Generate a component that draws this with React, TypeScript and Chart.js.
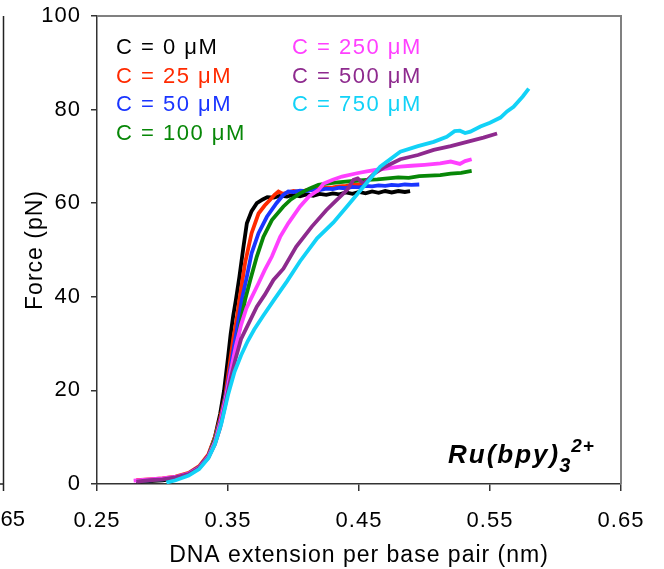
import React, { useEffect, useRef } from "react";
import { Chart, registerables } from "chart.js";

Chart.register(...registerables);

const FONT = "'Liberation Sans', Arial, sans-serif";

// Axis ticks
const xTicks = [0.25, 0.35, 0.45, 0.55, 0.65];
const yTicks = [0, 20, 40, 60, 80, 100];

// Series labels and colours
const labels = ["C = 0 μM", "C = 25 μM", "C = 50 μM", "C = 100 μM", "C = 250 μM", "C = 500 μM", "C = 750 μM"];
const colors = ["#000000", "#ff2a00", "#1a35ff", "#078707", "#ff40ff", "#8e2a8e", "#12d2f7"];

// Extension (nm per bp) and force (pN) for each concentration
const c0X = [0.280, 0.290, 0.300, 0.310, 0.320, 0.328, 0.335, 0.340, 0.344, 0.347, 0.350, 0.352, 0.354, 0.356, 0.3587, 0.3618, 0.3644, 0.368, 0.372, 0.3765, 0.380, 0.385, 0.390, 0.395, 0.400, 0.405, 0.410, 0.415, 0.420, 0.425, 0.430, 0.435, 0.440, 0.445, 0.450, 0.455, 0.460, 0.465, 0.470, 0.475, 0.480, 0.485, 0.489];
const c0F = [0.5, 0.6, 0.8, 1.2, 2.0, 3.5, 6.0, 10, 15, 20, 27, 32, 36, 39.3, 44.3, 50.7, 55.7, 58.3, 60.0, 60.8, 61.3, 61.2, 61.6, 61.4, 61.8, 61.5, 61.9, 61.6, 62.0, 61.8, 62.1, 61.9, 62.3, 62.0, 62.4, 62.1, 62.5, 62.2, 62.6, 62.3, 62.6, 62.4, 62.6];

const c25X = [0.280, 0.290, 0.300, 0.310, 0.320, 0.328, 0.335, 0.340, 0.344, 0.348, 0.351, 0.354, 0.3565, 0.3587, 0.363, 0.368, 0.3733, 0.378, 0.382, 0.3855, 0.3885, 0.392, 0.396, 0.400, 0.405, 0.410, 0.415, 0.420, 0.425, 0.430, 0.435, 0.440, 0.445, 0.450, 0.455];
const c25F = [0.8, 1.0, 1.2, 1.6, 2.4, 3.8, 6.3, 10, 14, 19, 25, 31, 35, 39.3, 47.2, 53.6, 57.8, 59.5, 60.7, 61.8, 62.5, 62.0, 62.3, 62.6, 62.4, 62.8, 62.9, 63.1, 63.3, 63.4, 63.6, 63.7, 63.9, 64.0, 64.3];

const c50X = [0.280, 0.290, 0.300, 0.310, 0.320, 0.328, 0.335, 0.340, 0.345, 0.349, 0.352, 0.355, 0.358, 0.3605, 0.3644, 0.368, 0.3733, 0.3797, 0.387, 0.392, 0.396, 0.400, 0.405, 0.410, 0.415, 0.420, 0.425, 0.430, 0.435, 0.440, 0.445, 0.450, 0.455, 0.460, 0.465, 0.470, 0.475, 0.480, 0.485, 0.490, 0.496];
const c50F = [0.6, 0.8, 1.0, 1.4, 2.2, 3.6, 6.0, 9.5, 14.5, 20, 25, 30, 35, 39.3, 44.3, 49.3, 53.6, 57.1, 60.0, 61.7, 62.5, 62.4, 62.7, 62.6, 62.9, 62.8, 63.1, 63.0, 63.3, 63.2, 63.5, 63.4, 63.7, 63.6, 63.8, 63.7, 63.9, 63.8, 64.0, 63.9, 64.0];

const c100X = [0.280, 0.290, 0.300, 0.310, 0.320, 0.328, 0.335, 0.340, 0.345, 0.349, 0.353, 0.357, 0.360, 0.363, 0.367, 0.372, 0.377, 0.3835, 0.3923, 0.398, 0.405, 0.412, 0.419, 0.425, 0.432, 0.440, 0.448, 0.456, 0.464, 0.472, 0.480, 0.488, 0.496, 0.504, 0.512, 0.520, 0.528, 0.536];
const c100F = [0.6, 0.8, 1.0, 1.3, 2.1, 3.5, 5.8, 9.5, 14, 19.5, 25, 30.5, 35, 39.3, 43.6, 48.6, 52.8, 56.4, 59.3, 60.8, 62.1, 63.1, 63.9, 64.2, 64.4, 64.6, 64.8, 65.0, 65.1, 65.3, 65.5, 65.4, 65.8, 65.9, 66.0, 66.3, 66.5, 66.9];

const c250X = [0.278, 0.290, 0.300, 0.310, 0.320, 0.328, 0.335, 0.340, 0.344, 0.348, 0.352, 0.356, 0.360, 0.364, 0.367, 0.3733, 0.378, 0.3835, 0.3898, 0.396, 0.405, 0.412, 0.419, 0.423, 0.430, 0.437, 0.4484, 0.456, 0.465, 0.4815, 0.490, 0.500, 0.512, 0.520, 0.527, 0.531, 0.536];
const c250F = [0.7, 1.0, 1.2, 1.5, 2.2, 3.5, 5.8, 9.0, 13, 18, 24, 29.5, 34, 37.5, 39.3, 42.9, 45.7, 48.6, 52.8, 55.7, 59.3, 61.5, 62.8, 64.2, 65.0, 65.7, 66.4, 66.8, 67.2, 67.8, 68.0, 68.2, 68.5, 68.9, 68.4, 69.0, 69.4];

const c500X = [0.280, 0.290, 0.300, 0.310, 0.320, 0.328, 0.335, 0.340, 0.344, 0.348, 0.352, 0.356, 0.360, 0.367, 0.372, 0.378, 0.3847, 0.3923, 0.402, 0.414, 0.425, 0.4305, 0.4408, 0.4458, 0.449, 0.4534, 0.461, 0.470, 0.4815, 0.495, 0.507, 0.520, 0.5325, 0.545, 0.5554];
const c500F = [0.5, 0.8, 1.0, 1.4, 2.1, 3.4, 5.6, 8.5, 12, 17, 22.5, 27, 31, 35, 37.9, 40.4, 43.6, 46.0, 50.7, 55.0, 58.5, 60.0, 62.8, 65.0, 65.3, 64.2, 66.2, 67.8, 69.4, 70.3, 71.4, 72.2, 73.1, 74.0, 74.9];

const c750X = [0.303, 0.310, 0.320, 0.328, 0.335, 0.340, 0.345, 0.350, 0.355, 0.360, 0.365, 0.370, 0.377, 0.385, 0.395, 0.405, 0.418, 0.4305, 0.4408, 0.4534, 0.4662, 0.4815, 0.495, 0.507, 0.517, 0.523, 0.527, 0.531, 0.535, 0.5427, 0.550, 0.558, 0.563, 0.568, 0.575, 0.5796];
const c750F = [0.3, 0.8, 1.8, 3.2, 5.5, 8.5, 13, 19, 24, 27.5, 30.5, 33, 36, 39.3, 43.3, 47.6, 52.5, 55.9, 59.3, 63.5, 67.8, 71.0, 72.2, 73.1, 74.2, 75.4, 75.5, 75.0, 75.3, 76.4, 77.2, 78.3, 79.6, 80.6, 82.8, 84.5];

const seriesX = [c0X, c25X, c50X, c100X, c250X, c500X, c750X];
const seriesF = [c0F, c25F, c50F, c100F, c250F, c500F, c750F];

// Slightly open letter spacing for all axis text
const spacingPlugin = {
  id: "spacing",
  beforeLayout(chart: any) {
    chart.ctx.letterSpacing = "1px";
  },
  beforeDraw(chart: any) {
    chart.ctx.letterSpacing = "1px";
  },
};

// Top and right border of the plot box
const framePlugin = {
  id: "frame",
  afterDraw(chart: any) {
    const { ctx, chartArea: a } = chart;
    ctx.save();
    ctx.strokeStyle = "#808080";
    ctx.lineWidth = 2;
    ctx.beginPath();
    ctx.moveTo(a.left, a.top);
    ctx.lineTo(a.right, a.top);
    ctx.lineTo(a.right, a.bottom);
    ctx.stroke();
    ctx.restore();
  },
};

// Edge of the neighbouring panel on the left
const neighbourPlugin = {
  id: "neighbour",
  afterDraw(chart: any) {
    const { ctx, chartArea: a } = chart;
    ctx.save();
    ctx.strokeStyle = "#222";
    ctx.lineWidth = 1.5;
    ctx.beginPath();
    ctx.moveTo(3.5, a.top);
    ctx.lineTo(3.5, a.bottom + 7);
    ctx.moveTo(0, a.bottom);
    ctx.lineTo(3.5, a.bottom);
    ctx.stroke();
    ctx.fillStyle = "#000";
    ctx.letterSpacing = "0px";
    ctx.font = `22px ${FONT}`;
    ctx.textAlign = "right";
    ctx.textBaseline = "middle";
    ctx.fillText(xTicks[xTicks.length - 1].toFixed(2), 25, 520);
    ctx.restore();
  },
};

// Two-column text legend
const legendPlugin = {
  id: "textLegend",
  afterDatasetsDraw(chart: any) {
    const { ctx, chartArea: a } = chart;
    ctx.save();
    ctx.letterSpacing = "1.5px";
    ctx.font = `22px ${FONT}`;
    ctx.textAlign = "left";
    ctx.textBaseline = "middle";
    chart.data.datasets.forEach((ds: any, i: number) => {
      const col = i < 4 ? 0 : 1;
      const row = i < 4 ? i : i - 4;
      ctx.fillStyle = ds.borderColor;
      ctx.fillText(ds.label, a.left + 19 + col * 176, a.top + 32 + row * 28.5);
    });
    ctx.restore();
  },
};

// Compound label in the lower right corner
const compoundPlugin = {
  id: "compound",
  afterDatasetsDraw(chart: any) {
    const { ctx, chartArea: a } = chart;
    ctx.save();
    ctx.fillStyle = "#000";
    ctx.textAlign = "left";
    ctx.textBaseline = "alphabetic";
    ctx.letterSpacing = "2px";
    const x0 = a.right - 173;
    const base = a.bottom - 21;
    ctx.font = `italic bold 26px ${FONT}`;
    ctx.fillText("Ru(bpy)", x0, base);
    const w = ctx.measureText("Ru(bpy)").width;
    ctx.letterSpacing = "1px";
    ctx.font = `italic bold 20px ${FONT}`;
    ctx.fillText("3", x0 + w - 1, base + 9);
    ctx.font = `italic bold 19px ${FONT}`;
    ctx.fillText("2+", x0 + w + 11, base - 11);
    ctx.restore();
  },
};

export default function App() {
  const ref = useRef<HTMLCanvasElement | null>(null);

  useEffect(() => {
    if (!ref.current) return;
    const datasets = labels.map((label, i) => ({
      label,
      data: seriesX[i].map((x, j) => ({ x, y: seriesF[i][j] })),
      borderColor: colors[i],
      backgroundColor: colors[i],
      borderWidth: 3.8,
      pointRadius: 0,
      tension: 0,
      fill: false,
      order: labels.length - i,
    }));

    const chart = new Chart(ref.current, {
      type: "line",
      data: { datasets },
      options: {
        animation: false,
        responsive: false,
        devicePixelRatio: 1,
        layout: { padding: { top: 16, right: 43, left: 0, bottom: 0 } },
        plugins: { legend: { display: false }, tooltip: { enabled: false } },
        scales: {
          x: {
            type: "linear",
            min: xTicks[0],
            max: xTicks[xTicks.length - 1],
            afterBuildTicks: (s: any) => {
              s.ticks = xTicks.map((v) => ({ value: v }));
            },
            afterFit: (s: any) => {
              s.height = 85;
              s.paddingLeft = 0;
              s.paddingRight = 0;
            },
            ticks: {
              color: "#000",
              font: { family: FONT, size: 22 },
              padding: 17,
              maxRotation: 0,
              autoSkip: false,
              callback: (v: any) => Number(v).toFixed(2),
            },
            grid: { drawOnChartArea: false, drawTicks: true, tickLength: 7, color: "#333", lineWidth: 1.5 },
            border: { color: "#333", width: 1.5 },
            title: {
              display: true,
              text: "DNA extension per base pair (nm)",
              color: "#000",
              font: { family: FONT, size: 23 },
              padding: { top: 2, bottom: 0 },
            },
          },
          y: {
            type: "linear",
            min: yTicks[0],
            max: yTicks[yTicks.length - 1],
            afterBuildTicks: (s: any) => {
              s.ticks = yTicks.map((v) => ({ value: v }));
            },
            afterFit: (s: any) => {
              s.width = 97;
              s.paddingTop = 0;
              s.paddingBottom = 0;
            },
            ticks: {
              color: "#000",
              font: { family: FONT, size: 22 },
              padding: 10,
            },
            grid: { drawOnChartArea: false, drawTicks: true, tickLength: 6, color: "#333", lineWidth: 1.5 },
            border: { color: "#333", width: 1.5 },
            title: {
              display: true,
              text: "Force (pN)",
              color: "#000",
              font: { family: FONT, size: 23 },
              padding: { top: 22, bottom: 0 },
            },
          },
        },
      },
      plugins: [spacingPlugin, framePlugin, neighbourPlugin, legendPlugin, compoundPlugin],
    });
    return () => chart.destroy();
  }, []);

  return (
    <div style={{ position: "absolute", left: 0, top: 0, width: 664, height: 569, background: "#fff" }}>
      <canvas ref={ref} width={664} height={569} style={{ display: "block" }} />
    </div>
  );
}
